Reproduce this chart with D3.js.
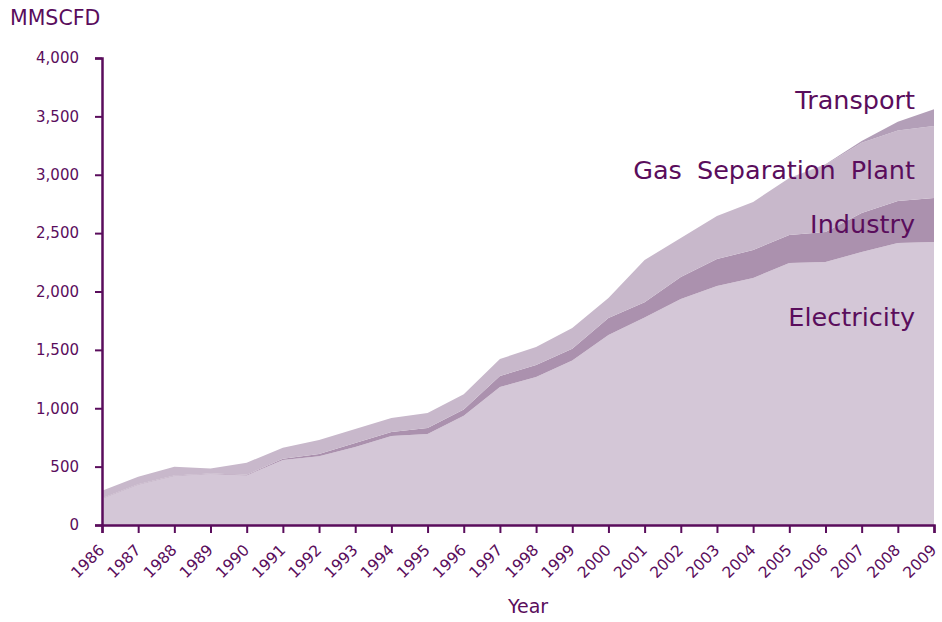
<!DOCTYPE html>
<html>
<head>
<meta charset="utf-8">
<script src="https://cdn.jsdelivr.net/npm/d3@7"></script>
<style>
  body { margin: 0; background: #fff; }
  svg text { font-family: "DejaVu Sans", "Noto Sans", sans-serif; fill: #5a0d5c; }
</style>
</head>
<body>
<svg id="chart" width="942" height="622"></svg>
<script>
var years = [1986, 1987, 1988, 1989, 1990, 1991, 1992, 1993, 1994, 1995, 1996, 1997,
             1998, 1999, 2000, 2001, 2002, 2003, 2004, 2005, 2006, 2007, 2008, 2009];
var electricity = [225, 345, 420, 437, 425, 557, 588, 668, 762, 779, 935, 1182,
                   1268, 1410, 1627, 1778, 1935, 2047, 2116, 2244, 2253, 2338, 2415, 2424];
var industry = [5, 5, 5, 5, 5, 10, 20, 34, 35, 51, 55, 94,
                102, 100, 146, 130, 189, 231, 239, 240, 257, 334, 360, 377];
var gasSeparation = [64, 64, 75, 43, 104, 95, 120, 120, 119, 129, 130, 146,
                     155, 177, 171, 362, 334, 369, 412, 488, 575, 603, 603, 616];
var transport = [0, 0, 0, 0, 0, 0, 0, 0, 0, 0, 0, 0,
                 0, 0, 0, 0, 0, 0, 0, 0, 5, 15, 77, 143];
var seriesNames = ["Electricity", "Industry", "Gas Separation Plant", "Transport"];
var yTicks = [0, 500, 1000, 1500, 2000, 2500, 3000, 3500, 4000];

var purple = "#5a0d5c";
var fills = {"Electricity": "#d4c7d7", "Industry": "#ab91ae", "Gas Separation Plant": "#c8b8cb", "Transport": "#b39fb8"};

var rows = years.map(function(y, i) {
    return {year: y, "Electricity": electricity[i], "Industry": industry[i],
            "Gas Separation Plant": gasSeparation[i], "Transport": transport[i]};
});

var svg = d3.select("#chart");
var x = d3.scaleLinear().domain([1986, 2009]).range([102, 934]);
var y = d3.scaleLinear().domain([0, 4000]).range([525, 58]);

var stack = d3.stack().keys(seriesNames);
var layers = stack(rows);

var area = d3.area()
    .x(d => x(d.data.year))
    .y0(d => y(d[0]))
    .y1(d => y(d[1]));

svg.append("g")
    .selectAll("path")
    .data(layers)
    .join("path")
      .attr("d", area)
      .attr("fill", d => fills[d.key]);

// axes
var yAxis = svg.append("g")
    .attr("transform", "translate(102,0)")
    .call(d3.axisLeft(y).tickValues(yTicks).tickSize(7).tickPadding(16).tickFormat(d3.format(",")));
var xAxis = svg.append("g")
    .attr("transform", "translate(0,525)")
    .call(d3.axisBottom(x).tickValues(years).tickSize(8).tickFormat(d3.format("d")));

[yAxis, xAxis].forEach(function(g) {
    g.select(".domain").attr("stroke", purple).attr("stroke-width", 2.5);
    g.selectAll(".tick line").attr("stroke", purple).attr("stroke-width", 2);
    g.selectAll("text").style("font-size", "15px").attr("fill", purple);
});

xAxis.selectAll(".tick text")
    .style("font-size", "15.5px")
    .attr("text-anchor", "end")
    .attr("dy", null)
    .attr("y", 0)
    .attr("transform", "translate(3,26) rotate(-45)");

svg.append("text")
    .attr("x", 10).attr("y", 25)
    .style("font-size", "20.5px")
    .text("MMSCFD");

svg.append("text")
    .attr("x", 528).attr("y", 613)
    .attr("text-anchor", "middle")
    .style("font-size", "19px")
    .text("Year");

var labels = [
    {name: "Transport", y: 109},
    {name: "Gas Separation Plant", y: 179},
    {name: "Industry", y: 233},
    {name: "Electricity", y: 326}
];
svg.append("g")
    .selectAll("text")
    .data(labels)
    .join("text")
      .attr("x", 915)
      .attr("y", d => d.y)
      .attr("text-anchor", "end")
      .style("font-size", "25.5px")
      .style("word-spacing", d => d.name === "Gas Separation Plant" ? "7px" : null)
      .text(d => d.name);
</script>
</body>
</html>
